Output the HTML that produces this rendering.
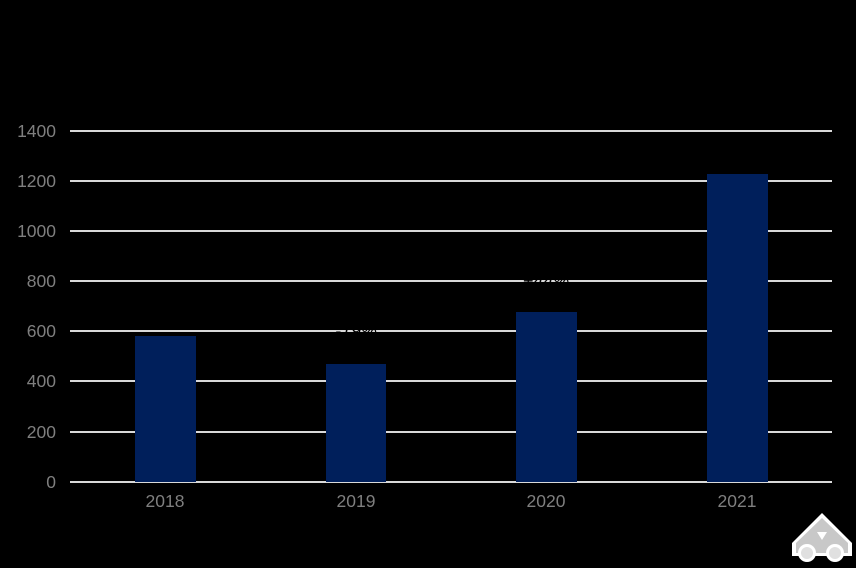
<!DOCTYPE html>
<html><head><style>
html,body{margin:0;padding:0;background:#000;}
</style></head><body>
<svg width="856" height="568" xmlns="http://www.w3.org/2000/svg" style="display:block">
<rect width="856" height="568" fill="#000"/>
<g stroke="#d9d9d9" stroke-width="2">
<line x1="70" x2="832" y1="131" y2="131"/>
<line x1="70" x2="832" y1="181" y2="181"/>
<line x1="70" x2="832" y1="231" y2="231"/>
<line x1="70" x2="832" y1="281" y2="281"/>
<line x1="70" x2="832" y1="331" y2="331"/>
<line x1="70" x2="832" y1="381" y2="381"/>
<line x1="70" x2="832" y1="432" y2="432"/>
<line x1="70" x2="832" y1="482" y2="482"/>
</g>
<g fill="#001f5b">
<rect x="135" y="336" width="61" height="146"/>
<rect x="326" y="364" width="60" height="118"/>
<rect x="516" y="312" width="61" height="170"/>
<rect x="707" y="174" width="61" height="308"/>
</g>
<g font-family="Liberation Sans, sans-serif" font-size="17.5" fill="#7f7f7f" text-anchor="end">
<text x="56" y="137">1400</text>
<text x="56" y="187">1200</text>
<text x="56" y="237">1000</text>
<text x="56" y="287">800</text>
<text x="56" y="337">600</text>
<text x="56" y="387">400</text>
<text x="56" y="438">200</text>
<text x="56" y="488">0</text>
</g>
<g font-family="Liberation Sans, sans-serif" font-size="17.5" fill="#7f7f7f" text-anchor="middle">
<text x="165" y="507">2018</text>
<text x="356" y="507">2019</text>
<text x="546" y="507">2020</text>
<text x="737" y="507">2021</text>
</g>
<g font-family="Liberation Sans, sans-serif" font-size="18" font-style="italic" fill="#000" text-anchor="middle">
<text x="356" y="337">-19%</text>
<text x="546" y="287">+44%</text>
</g>
<g>
<polygon points="822,513 852,543 852,556 792,556 792,543" fill="#fff"/>
<polygon points="822,518 848,543 848,553 796,553 796,543" fill="#c8c8c8"/>
<polygon points="817,532 827,532 822,540" fill="#fff"/>
<circle cx="807" cy="553" r="9" fill="#fff"/>
<circle cx="807" cy="553" r="6" fill="#e0e0e0"/>
<circle cx="835" cy="553" r="9" fill="#fff"/>
<circle cx="835" cy="553" r="6" fill="#e0e0e0"/>
</g>
</svg>
</body></html>
